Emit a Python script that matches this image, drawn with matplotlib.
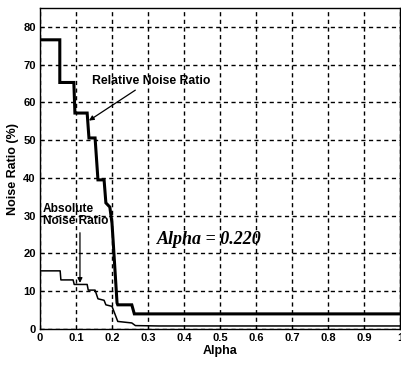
import matplotlib
matplotlib.use('Agg')
import matplotlib.pyplot as plt

# relative noise ratio (%) vs alpha
rel_alpha = [0.0, 0.055, 0.055, 0.094, 0.097, 0.131, 0.136, 0.153, 0.161, 0.178,
             0.183, 0.194, 0.200, 0.203, 0.214, 0.216, 0.255, 0.262, 1.0]
rel_ratio = [76.6, 76.6, 65.3, 65.3, 57.2, 57.2, 50.6, 50.6, 39.5, 39.5,
             33.4, 32.3, 28.0, 23.6, 6.9, 6.4, 6.4, 4.0, 4.0]

# absolute noise ratio (%) vs alpha
abs_alpha = [0.0, 0.056, 0.058, 0.092, 0.095, 0.131, 0.134, 0.153, 0.161, 0.178,
             0.183, 0.200, 0.216, 0.255, 0.265, 0.33, 1.0]
abs_ratio = [15.4, 15.4, 13.0, 13.0, 11.8, 11.8, 10.3, 10.3, 8.0, 7.6,
             6.4, 6.0, 2.0, 1.6, 0.9, 0.8, 0.8]

x_ticks = [0, 0.1, 0.2, 0.3, 0.4, 0.5, 0.6, 0.7, 0.8, 0.9, 1]
x_tick_labels = ['0', '0.1', '0.2', '0.3', '0.4', '0.5', '0.6', '0.7', '0.8', '0.9', '1']
y_ticks = [0, 10, 20, 30, 40, 50, 60, 70, 80]

fig = plt.figure(figsize=(4.02, 3.68), dpi=100)
ax = fig.add_axes([0.0995, 0.106, 0.8955, 0.872])

ax.plot(rel_alpha, rel_ratio, color='black', lw=2.2, solid_joinstyle='miter')
ax.plot(abs_alpha, abs_ratio, color='black', lw=1.1)

ax.set_xlim(0, 1)
ax.set_ylim(0, 85)
ax.set_xticks(x_ticks)
ax.set_xticklabels(x_tick_labels)
ax.set_yticks(y_ticks)
ax.tick_params(direction='in', length=3, width=0.8, labelsize=8, pad=3)
for lab in ax.get_xticklabels() + ax.get_yticklabels():
    lab.set_fontweight('bold')
    lab.set_family('Liberation Sans')

ax.grid(True, color='black', linestyle=(0, (3, 2.5)), linewidth=1.0)
for sp in ax.spines.values():
    sp.set_linewidth(1.0)

lbl = dict(family='Liberation Sans', fontweight='bold', fontsize=9)
ax.set_xlabel('Alpha', labelpad=1, **lbl)
ax.set_ylabel('Noise Ratio (%)', labelpad=3, **lbl)

ax.annotate('Relative Noise Ratio', xy=(0.136, 55.2), xytext=(0.145, 64.0),
            ha='left', va='bottom', fontsize=8.8, fontweight='bold',
            family='Liberation Sans',
            arrowprops=dict(arrowstyle='-|>', color='black', lw=0.9,
                            mutation_scale=7, shrinkA=0, shrinkB=0,
                            relpos=(0.4, 0.0)))

ax.text(0.008, 27.0, 'Absolute\nNoise Ratio', ha='left', va='bottom',
        fontsize=8.6, fontweight='bold', family='Liberation Sans',
        linespacing=1.0)
ax.annotate('', xy=(0.111, 12.2), xytext=(0.111, 25.5),
            arrowprops=dict(arrowstyle='-|>', color='black', lw=0.9,
                            mutation_scale=7, shrinkA=0, shrinkB=0))

ax.text(0.47, 23.8, 'Alpha = 0.220', ha='center', va='center',
        fontsize=13, fontweight='bold', fontstyle='italic',
        family='Liberation Serif')

fig.savefig('out.png', dpi=100)
